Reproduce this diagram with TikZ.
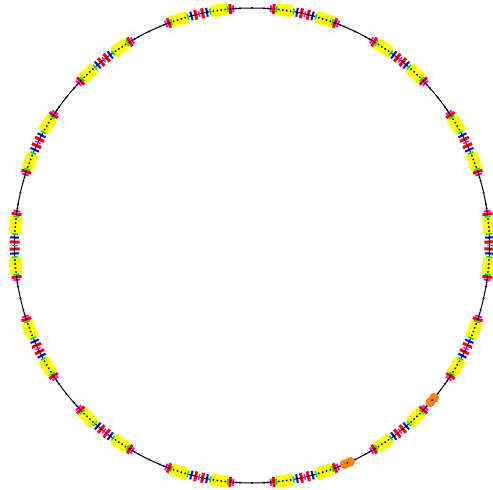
\documentclass[tikz,border=0pt]{standalone}
\usepackage{xcolor}
\definecolor{cyel}{RGB}{255,255,0}
\definecolor{cred}{RGB}{255,0,0}
\definecolor{cblue}{RGB}{0,0,255}
\definecolor{cgreen}{RGB}{0,230,0}
\definecolor{cmag}{RGB}{255,0,255}
\definecolor{corange}{RGB}{250,130,20}
\newcommand\ringR{237.5}
\newcommand\elem[4]{\fill[#4, shift={(252,244.5)}, rotate=#1] ({\ringR-#3/2},{-#2/2}) rectangle ({\ringR+#3/2},{#2/2});}
\newcommand\bdot[1]{\fill[black, shift={(252,244.5)}, rotate=#1] (\ringR,0) circle (1.1);}
\begin{document}
\begin{tikzpicture}[x=1pt,y=1pt]
\useasboundingbox (0,0) rectangle (493,490);
\coordinate (c) at (252,244.5);
\draw[black, line width=1pt] (c) circle (\ringR);
\foreach \k in {0,...,13}{
  \pgfmathsetmacro\ang{\k*360/14}
  \elem{\ang}{1.5}{6}{cmag}
  \foreach \sg in {-1,1}{
    \foreach \s/\L/\W/\col in {14.5/4.6/12/cyel, 18.5/4.6/12/cyel, 22.5/4.6/12/cyel, 26.5/4.6/12/cyel,
        3.5/3/10/cred, 8/2/9/cblue, 11.5/1.5/6/cgreen, 29/1.5/6/cgreen, 31.5/3/10/cred, 34.5/2/7/cmag}{
      \pgfmathsetmacro\a{\ang+\sg*\s*0.24124}
      \elem{\a}{\L}{\W}{\col}
    }
    \foreach \s in {3.5, 8, 14.5, 18.5, 22.5, 26.5, 31.5, 34.5}{
      \pgfmathsetmacro\a{\ang+\sg*\s*0.24124}
      \bdot{\a}
    }
  }
  \pgfmathsetmacro\st{(\k+0.5)*360/14}
  \bdot{\st}
  \foreach \s in {-16,-12,12,16}{
    \pgfmathsetmacro\a{\st+\s*0.24124}
    \bdot{\a}
  }
}
% RF cavities (orange)
\foreach \st in {295.714, 321.429}{
  \foreach \s in {-2.8,2.8}{
    \pgfmathsetmacro\a{\st-2.05+\s*0.24124}
    \fill[corange, shift={(c)}, rotate=\a] (\ringR,0) circle (5);
  }
  \pgfmathsetmacro\a{\st-2.05}
  \bdot{\a}
}
\end{tikzpicture}
\end{document}
